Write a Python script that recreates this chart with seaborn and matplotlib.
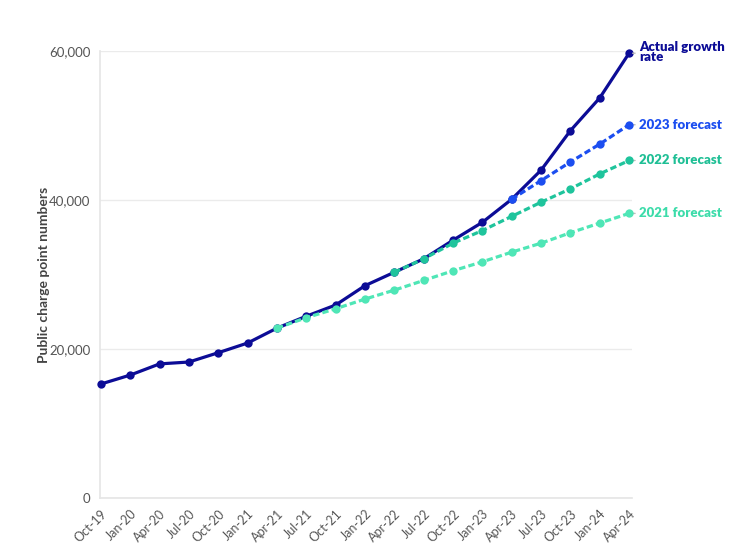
import numpy as np
import pandas as pd
import matplotlib
matplotlib.use("Agg")
import matplotlib.pyplot as plt
import seaborn as sns

quarters = ["Oct-19", "Jan-20", "Apr-20", "Jul-20", "Oct-20", "Jan-21", "Apr-21", "Jul-21",
            "Oct-21", "Jan-22", "Apr-22", "Jul-22", "Oct-22", "Jan-23", "Apr-23", "Jul-23",
            "Oct-23", "Jan-24", "Apr-24"]

actual = [15300, 16500, 18000, 18250, 19500, 20800, 22800, 24400, 25900, 28500, 30300,
          32100, 34600, 37000, 40100, 44000, 49300, 53700, 59700]
forecast_2023_start = "Apr-23"
forecast_2023 = [40100, 42600, 45100, 47500, 50100]
forecast_2022_start = "Apr-22"
forecast_2022 = [30300, 32100, 34200, 35900, 37800, 39700, 41500, 43500, 45300]
forecast_2021_start = "Apr-21"
forecast_2021 = [22800, 24200, 25400, 26700, 27900, 29200, 30500, 31700, 33000, 34200,
                 35600, 36900, 38200]

series_names = ["Actual growth\nrate", "2023 forecast", "2022 forecast", "2021 forecast"]
colors = ["#0c0c96", "#1c4ef0", "#1fc49c", "#4fe6b6"]
label_colors = ["#0c0c96", "#1c4ef0", "#1fbf95", "#3ddcaa"]

def frame(start, vals, name):
    i0 = quarters.index(start)
    return pd.DataFrame({"x": np.arange(i0, i0 + len(vals)), "y": vals, "series": name})

frames = [frame("Oct-19", actual, series_names[0]),
          frame(forecast_2023_start, forecast_2023, series_names[1]),
          frame(forecast_2022_start, forecast_2022, series_names[2]),
          frame(forecast_2021_start, forecast_2021, series_names[3])]

sns.set_theme(style="white")
plt.rcParams["font.family"] = ["Lato", "DejaVu Sans"]

fig = plt.figure(figsize=(7.36, 5.47), dpi=100)
ax = fig.add_axes([0.1359, 0.0896, 0.7228, 0.8172])

# actual first, then forecasts on top (2021, 2022, 2023)
order = [0, 3, 2, 1]
for z, k in enumerate(order):
    df = frames[k]
    ls = "-" if k == 0 else (0, (2.0, 1.0))
    sns.lineplot(data=df, x="x", y="y", ax=ax, color=colors[k], linewidth=2.3,
                 marker="o", markersize=6, markeredgewidth=0, linestyle=ls,
                 legend=False, clip_on=False, zorder=3 + z)
    xe = df["x"].iloc[-1]
    ye = df["y"].iloc[-1]
    ax.annotate("", xy=(xe + 0.12, ye), xytext=(xe + 0.3, ye), xycoords="data",
                arrowprops=dict(arrowstyle="-", color="#bbbbbb", lw=1), annotation_clip=False)
    ax.annotate(series_names[k], xy=(xe, ye), xytext=(7, 9 if k == 0 else 0),
                textcoords="offset points", ha="left", va="top" if k == 0 else "center",
                fontsize=9.5, fontweight="heavy", color=label_colors[k],
                linespacing=0.8, annotation_clip=False)

ax.set_xlim(-0.03, 18.1)
ax.set_ylim(0, 60000)
ax.set_xticks(range(len(quarters)))
ax.set_xticklabels(quarters, rotation=45, ha="right", rotation_mode="anchor",
                   fontsize=9, color="#555555")
ax.set_yticks([0, 20000, 40000, 60000])
ax.set_yticklabels(["0", "20,000", "40,000", "60,000"], fontsize=9.5, color="#555555")
ax.grid(axis="y", color="#ebebeb", linewidth=1)
ax.set_axisbelow(True)
for s in ["top", "right"]:
    ax.spines[s].set_visible(False)
ax.spines["left"].set_color("#e6e6e6")
ax.spines["bottom"].set_color("#e6e6e6")
ax.tick_params(axis="both", which="both", length=4, color="#dddddd", width=1, pad=3)
ax.set_xlabel("")
ax.set_ylabel("Public charge point numbers", fontsize=10, fontweight="bold",
              color="#444444", labelpad=-1)

fig.savefig("out.png", dpi=100)
